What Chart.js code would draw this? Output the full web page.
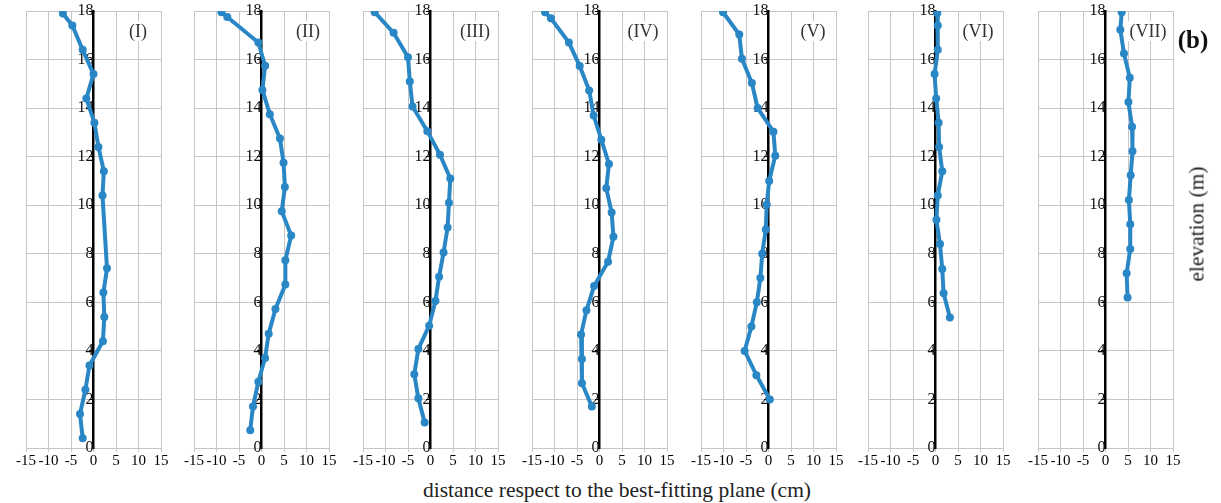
<!DOCTYPE html>
<html>
<head>
<meta charset="utf-8">
<script src="https://cdn.jsdelivr.net/npm/chart.js@4"></script>
<style>
  body { margin: 0; background: #fff; width: 1221px; height: 503px; position: relative; overflow: hidden; font-family: "Liberation Serif", "DejaVu Serif", serif; }
  .panel { position: absolute; top: 0; height: 472px; }
  .tag { position: absolute; background: #fff; font-size: 18px; color: #333; transform: translate(-50%, -50%); padding: 0 2px; line-height: 20px; }
  #xtitle { position: absolute; left: 617px; top: 490px; transform: translate(-50%, -50%); font-size: 21.5px; color: #222; white-space: nowrap; }
  #ytitle { position: absolute; left: 1197px; top: 224px; transform: translate(-50%, -50%) rotate(-90deg); font-size: 21.5px; color: #222; white-space: nowrap; }
  #b { position: absolute; left: 1193px; top: 40px; transform: translate(-50%, -50%); font-size: 25px; font-weight: bold; color: #111; }
</style>
</head>
<body>

<script>
// elevation (m) and distance to the best-fitting plane (cm) for each section
const elevI = [17.9, 17.4, 16.4, 15.4, 14.4, 13.4, 12.4, 11.4, 10.4, 7.4, 6.4, 5.4, 4.4, 3.4, 2.4, 1.4, 0.4];
const distI = [-6.8, -4.7, -2.4, 0.0, -1.6, 0.2, 1.1, 2.3, 2.0, 3.0, 2.2, 2.4, 2.1, -0.9, -1.8, -3.0, -2.4];

const elevII = [17.95, 17.75, 16.7, 15.75, 14.75, 13.75, 12.75, 11.75, 10.75, 9.75, 8.75, 7.73, 6.73, 5.73, 4.71, 3.71, 2.73, 1.71, 0.73];
const distII = [-8.9, -7.6, -0.7, 0.8, 0.2, 1.85, 4.1, 4.9, 5.2, 4.5, 6.6, 5.3, 5.3, 3.1, 1.6, 0.8, -0.7, -1.9, -2.5];

const elevIII = [17.95, 17.1, 16.1, 15.1, 14.07, 13.05, 12.08, 11.1, 10.1, 9.08, 8.05, 7.05, 6.05, 5.04, 4.08, 3.04, 2.05, 1.05];
const distIII = [-12.4, -8.2, -5.0, -4.6, -4.0, -0.7, 2.1, 4.4, 4.1, 3.8, 2.9, 1.9, 1.1, -0.3, -2.7, -3.6, -2.7, -1.3];

const elevIV = [17.95, 17.7, 16.7, 15.73, 14.73, 13.7, 12.7, 11.7, 10.7, 9.7, 8.7, 7.67, 6.67, 5.67, 4.67, 3.67, 2.67, 1.71];
const distIV = [-12.1, -10.8, -6.8, -4.4, -2.3, -1.3, 0.4, 2.1, 1.5, 2.7, 3.1, 1.9, -1.2, -2.9, -4.1, -3.9, -3.9, -1.7];

const elevV = [17.95, 17.03, 16.03, 15.03, 14.0, 13.03, 12.04, 11.0, 10.03, 9.0, 8.0, 7.0, 6.0, 5.0, 4.0, 3.0, 2.0];
const distV = [-10.1, -6.5, -5.9, -3.7, -2.4, 1.1, 1.5, 0.15, -0.4, -0.6, -1.4, -1.8, -2.6, -3.8, -5.3, -2.7, 0.3];

const elevVI = [17.92, 17.4, 16.4, 15.4, 14.4, 13.4, 12.4, 11.4, 10.4, 9.4, 8.4, 7.37, 6.37, 5.38];
const distVI = [0.4, 0.5, 0.5, -0.2, 0.15, 0.7, 0.8, 1.5, 0.5, 0.2, 1.0, 1.5, 1.8, 3.2];

const elevVII = [17.95, 17.23, 16.25, 15.25, 14.25, 13.23, 12.22, 11.23, 10.22, 9.22, 8.2, 7.2, 6.2];
const distVII = [3.6, 3.3, 4.1, 5.4, 5.1, 5.9, 6.0, 5.6, 5.2, 5.5, 5.5, 4.7, 4.9];

const panelNames = ["(I)", "(II)", "(III)", "(IV)", "(V)", "(VI)", "(VII)"];
const elevs = [elevI, elevII, elevIII, elevIV, elevV, elevVI, elevVII];
const dists = [distI, distII, distIII, distIV, distV, distVI, distVII];

const xTicks = [-15, -10, -5, 0, 5, 10, 15];
const yTicks = [0, 2, 4, 6, 8, 10, 12, 14, 16, 18];

// layout of the seven small plots
const plotLefts = [26, 194, 363, 532, 701, 868, 1038];
const tagCenters = [138, 308, 475, 643, 813, 978, 1148];
const plotW = 135;
const pad = 14;

const blue = "#2A87C6";
const gridCol = "#c6c6c6";
const serif = "'Liberation Serif', 'Times New Roman', serif";

panelNames.forEach((name, i) => {
  const div = document.createElement("div");
  div.className = "panel";
  div.style.left = (plotLefts[i] - pad) + "px";
  div.style.width = (plotW + 2 * pad) + "px";
  const ctx = document.createElement("canvas");
  div.appendChild(ctx);
  document.body.appendChild(div);

  const pts = elevs[i].map((e, k) => ({ x: dists[i][k], y: e }));

  new Chart(ctx, {
    type: "scatter",
    data: {
      datasets: [
        {
          data: pts,
          showLine: true,
          borderColor: blue,
          backgroundColor: blue,
          borderWidth: 4,
          pointRadius: 4,
          pointBorderWidth: 0,
          tension: 0,
        },
      ],
    },
    options: {
      responsive: true,
      maintainAspectRatio: false,
      animation: false,
      layout: { padding: { left: pad, right: pad, top: 11, bottom: 0 } },
      plugins: { legend: { display: false }, tooltip: { enabled: false } },
      scales: {
        x: {
          type: "linear",
          min: -15,
          max: 15,
          afterBuildTicks: (s) => { s.ticks = xTicks.map((v) => ({ value: v })); },
          afterFit: (s) => { s.height = 24; },
          grid: { color: gridCol, lineWidth: 1, tickLength: 4, tickColor: gridCol },
          border: { color: gridCol, width: 1 },
          ticks: { font: { family: serif, size: 15 }, color: "#000", padding: 0, maxRotation: 0, autoSkip: false },
        },
        y: {
          type: "linear",
          min: 0,
          max: 18,
          position: { x: 0 },
          afterBuildTicks: (s) => { s.ticks = yTicks.map((v) => ({ value: v })); },
          grid: { color: gridCol, lineWidth: 1, tickLength: 3, tickColor: "#000" },
          border: { color: "#000", width: 2.5 },
          ticks: { font: { family: serif, size: 16 }, color: "#111", padding: 1 },
        },
      },
    },
  });

  const tag = document.createElement("div");
  tag.className = "tag";
  tag.textContent = name;
  tag.style.left = tagCenters[i] + "px";
  tag.style.top = "31px";
  document.body.appendChild(tag);
});
</script>
<div id="b">(b)</div>
<div id="ytitle">elevation (m)</div>
<div id="xtitle">distance respect to the best-fitting plane (cm)</div>
</body>
</html>
